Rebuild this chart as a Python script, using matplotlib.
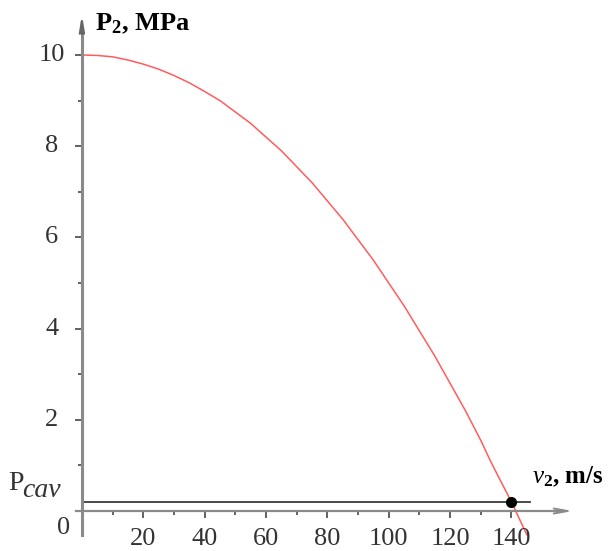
"""P2 versus v2 curve with the cavitation pressure level."""

import matplotlib
matplotlib.use("Agg")
import matplotlib.pyplot as plt
from matplotlib.ticker import FixedLocator

# values
v2 = [0, 5, 10, 15, 20, 25, 30, 35, 40, 45, 50, 55, 60, 65, 70, 75, 80, 85,
      90, 95, 100, 105, 110, 115, 120, 125, 130, 133, 136, 140, 145]
p2 = [10.0, 9.99, 9.96, 9.89, 9.8, 9.69, 9.55, 9.39, 9.2, 9.0, 8.75, 8.5,
      8.2, 7.9, 7.55, 7.2, 6.8, 6.4, 5.95, 5.5, 5.0, 4.5, 3.95, 3.4, 2.8,
      2.2, 1.55, 1.12, 0.72, 0.2, -0.52]
p_cav = 0.2
v_cav = 140
x_ticks = [20, 40, 60, 80, 100, 120, 140]
x_minor = [10, 30, 50, 70, 90, 110, 130]
y_ticks = [2, 4, 6, 8, 10]
y_minor = [1, 3, 5, 7, 9]

plt.rcParams["mathtext.fontset"] = "custom"
plt.rcParams["mathtext.rm"] = "Liberation Serif"
plt.rcParams["mathtext.it"] = "Liberation Serif:italic"
plt.rcParams["mathtext.bf"] = "Liberation Serif:bold"
plt.rcParams["font.family"] = ["Liberation Serif", "DejaVu Serif"]

text_color = "#333333"
axis_color = "#8a8a8a"

fig = plt.figure(figsize=(6.13, 5.51), dpi=100)
ax = fig.add_axes([0, 0, 1, 1])
ax.set_xlim(-26.7, 173.1)
ax.set_ylim(-0.877, 11.206)

for side in ("top", "right"):
    ax.spines[side].set_visible(False)
ax.spines["left"].set_position(("data", 0))
ax.spines["bottom"].set_position(("data", 0))
ax.spines["left"].set_bounds(-0.53, 10.6)
ax.spines["bottom"].set_bounds(-2, 155)
ax.spines["left"].set_color(axis_color)
ax.spines["bottom"].set_color(axis_color)
ax.spines["left"].set_linewidth(2.2)
ax.spines["bottom"].set_linewidth(1.6)

ax.xaxis.set_major_locator(FixedLocator(x_ticks))
ax.xaxis.set_minor_locator(FixedLocator(x_minor))
ax.yaxis.set_major_locator(FixedLocator(y_ticks))
ax.yaxis.set_minor_locator(FixedLocator(y_minor))
ax.tick_params(which="major", direction="out", length=5, width=1.3,
               color="#555555", labelbottom=False, labelleft=False)
ax.tick_params(which="minor", direction="out", length=3, width=1.3,
               color="#555555")

# axis arrows
ax.annotate("", xy=(0, 10.95), xytext=(0, 10.4),
            arrowprops=dict(arrowstyle="->,head_length=0.9,head_width=0.15",
                            color="#666666", lw=1.6))
ax.annotate("", xy=(161, 0), xytext=(150, 0),
            arrowprops=dict(arrowstyle="->,head_length=1.0,head_width=0.18",
                            color=axis_color, lw=1.4))

# tick labels
for t in x_ticks:
    ax.text(t, -0.61, str(t), ha="center", va="center", fontsize=19,
            color=text_color)
for t in y_ticks:
    ax.text(-9.8, t, str(t), ha="center", va="center", fontsize=19,
            color=text_color)
ax.text(-5.9, -0.37, "0", ha="center", va="center", fontsize=19,
        color=text_color)

# cavitation level and curve
ax.plot([0, 146], [p_cav, p_cav], color="#3a3a3a", lw=1.3)
ax.plot(v2, p2, color="#ff5c5c", lw=1.1)
ax.plot([v_cav], [p_cav], "o", color="black", markersize=7)

# labels
ax.text(4.2, 10.55, r"$\mathbf{P_2}$, MPa", fontsize=19, fontweight="bold",
        color="black", va="baseline")
ax.text(146.7, 0.61, r"$\mathbf{\mathit{v}_2}$, m/s", fontsize=18,
        fontweight="bold", color="black", va="baseline")
ax.text(-24.1, 0.46, "P", fontsize=20, color=text_color, va="baseline")
ax.text(-19.6, 0.31, "cav", fontsize=20, style="italic", color=text_color,
        va="baseline")

fig.savefig("out.png", dpi=100)
plt.close(fig)
